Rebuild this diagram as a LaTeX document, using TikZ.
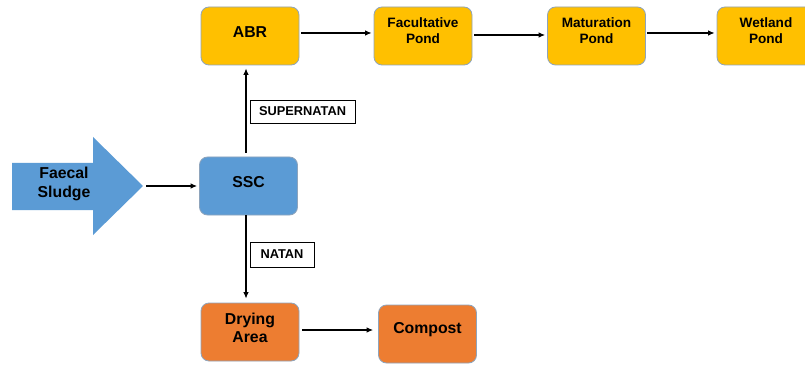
\documentclass[tikz,border=0pt]{standalone}
\usepackage{fontspec}
\setmainfont{Liberation Sans}
\usetikzlibrary{arrows.meta,calc}
\definecolor{yel}{HTML}{FFC000}
\definecolor{org}{HTML}{ED7D31}
\definecolor{blu}{HTML}{5B9BD5}
\definecolor{edge}{HTML}{8EA4BC}
\begin{document}
\begin{tikzpicture}[x=1pt,y=-1pt,
  box/.style={draw=edge,line width=0.8pt,rounded corners=8pt,minimum width=98pt,minimum height=58pt,inner sep=0pt},
  ybox/.style={box,fill=yel},
  obox/.style={box,fill=org},
  bbox/.style={box,fill=blu},
  lbl/.style={font=\bfseries\fontsize{13.6}{15.8}\selectfont,align=center,yshift=5.5pt,inner sep=0pt},
  blbl/.style={font=\bfseries\fontsize{15.8}{18}\selectfont,align=center,yshift=4pt,inner sep=0pt},
  tag/.style={draw=black,line width=0.7pt,fill=white,inner sep=0pt,font=\bfseries\fontsize{12.8}{14}\selectfont},
  conn/.style={line width=1.1pt,-{Latex[length=6.5pt,width=5.5pt]}}]
\useasboundingbox (0,0) rectangle (805,366);
\clip (0,0) rectangle (805,366);
\fill[white] (0,0) rectangle (805,366);
% Faecal sludge arrow
\fill[blu] (12,163) -- (93,163) -- (93,137) -- (143,186) -- (93,235) -- (93,210) -- (12,210) -- cycle;
\coordinate (fstip) at (143,186);
\node[font=\bfseries\fontsize{15.8}{19}\selectfont,align=center,inner sep=0pt] (fs) at (64,184) {Faecal\\Sludge};
% boxes
\node[ybox,label={[blbl]center:ABR}] (abr) at (250,36) {};
\node[ybox,label={[lbl]center:Facultative\\Pond}] (fac) at (423,36) {};
\node[ybox,label={[lbl]center:Maturation\\Pond}] (mat) at (596.5,36) {};
\node[ybox,label={[lbl]center:Wetland\\Pond}] (wet) at (766,36) {};
\node[bbox,label={[blbl]center:SSC}] (ssc) at (248.5,186) {};
\node[obox,label={[blbl]center:Drying\\Area}] (dry) at (250,332) {};
\node[obox,label={[blbl]center:Compost}] (comp) at (427.5,334) {};
% tags
\node[tag,minimum width=105pt,minimum height=23pt] (sup) at (302.5,111.5) {SUPERNATAN};
\node[tag,minimum width=64pt,minimum height=25pt] (nat) at (282,254.5) {NATAN};
% connectors
\draw[conn,shorten <=3pt,shorten >=2pt] (fstip) -- (ssc.west);
\draw[conn,shorten <=2pt,shorten >=2pt] ([yshift=3pt]abr.east) -- ([yshift=3pt]fac.west);
\draw[conn,shorten <=2pt,shorten >=2pt] ([yshift=1pt]fac.east) -- ([yshift=1pt]mat.west);
\draw[conn,shorten <=1pt,shorten >=2pt] ([yshift=3pt]mat.east) -- ([yshift=3pt]mat.east -| wet.west);
\draw[conn,shorten <=4pt,shorten >=3pt] ([xshift=-2.5pt]ssc.north) -- ([xshift=-2.5pt]ssc.north |- abr.south);
\draw[conn,shorten >=4pt] ([xshift=-2.5pt]ssc.south) -- ([xshift=-2.5pt]ssc.south |- dry.north);
\draw[conn,shorten <=3pt,shorten >=5pt] ([yshift=2pt]dry.east) -- ([yshift=2pt]dry.east -| comp.west);
\end{tikzpicture}
\end{document}
